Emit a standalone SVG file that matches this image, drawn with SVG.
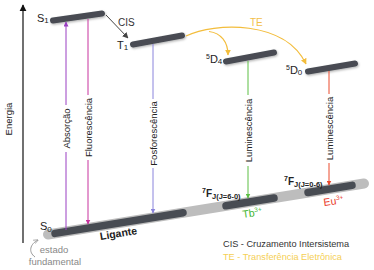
<svg xmlns="http://www.w3.org/2000/svg" width="374" height="270" viewBox="0 0 374 270">
<style>
text{font-family:"Liberation Sans",Arial,sans-serif;}
.bar{stroke:#484c53;stroke-width:6;stroke-linecap:round;fill:none;filter:url(#sh);}
.lbl{font-size:11px;fill:#222;}
.sub{font-size:8px;}
.vl{font-size:9.5px;fill:#222;text-anchor:middle;dominant-baseline:central;}
.leg{font-size:9.2px;}
</style>
<defs>
<filter id="sh" x="-20%" y="-100%" width="140%" height="300%">
<feDropShadow dx="0.8" dy="1.2" stdDeviation="0.9" flood-color="#000" flood-opacity="0.3"/>
</filter>
<marker id="aK" viewBox="0 0 10 10" refX="9" refY="5" markerWidth="6" markerHeight="6" orient="auto"><path d="M0,0L10,5L0,10z" fill="#444"/></marker>
<marker id="aY" viewBox="0 0 10 10" refX="9" refY="5" markerWidth="5" markerHeight="5" orient="auto"><path d="M0,0L10,5L0,10z" fill="#f3bd3c"/></marker>
<marker id="aP" viewBox="0 0 10 10" refX="9" refY="5" markerWidth="5" markerHeight="5" orient="auto"><path d="M0,0L10,5L0,10z" fill="#9a3ec2"/></marker>
<marker id="aM" viewBox="0 0 10 10" refX="9" refY="5" markerWidth="5" markerHeight="5" orient="auto"><path d="M0,0L10,5L0,10z" fill="#c7339e"/></marker>
<marker id="aL" viewBox="0 0 10 10" refX="9" refY="5" markerWidth="5" markerHeight="5" orient="auto"><path d="M0,0L10,5L0,10z" fill="#8a84dc"/></marker>
<marker id="aG" viewBox="0 0 10 10" refX="9" refY="5" markerWidth="5" markerHeight="5" orient="auto"><path d="M0,0L10,5L0,10z" fill="#5cbf45"/></marker>
<marker id="aR" viewBox="0 0 10 10" refX="9" refY="5" markerWidth="5" markerHeight="5" orient="auto"><path d="M0,0L10,5L0,10z" fill="#ea4a2c"/></marker>
<marker id="aA" viewBox="0 0 10 10" refX="9" refY="5" markerWidth="6" markerHeight="6" orient="auto"><path d="M0,0L10,5L0,10z" fill="#111"/></marker>
<marker id="aE" viewBox="0 0 10 10" refX="9" refY="5" markerWidth="5" markerHeight="5" orient="auto"><path d="M0,1L10,5L0,9" fill="none" stroke="#999" stroke-width="1.5"/></marker>
</defs>
<rect width="374" height="270" fill="#fff"/>

<g id="axis">
<line x1="23" y1="243" x2="23" y2="5" stroke="#111" stroke-width="1.2" marker-end="url(#aA)"/>
<text class="vl" transform="translate(8,119) rotate(-90)">Energia</text>
</g>

<g id="ground">
<line x1="48" y1="234.5" x2="364" y2="183.5" stroke="#bdbdbd" stroke-width="10" stroke-linecap="round"/>
<line x1="55" y1="233.4" x2="183" y2="212.7" stroke="#484c53" stroke-width="7.5" stroke-linecap="round"/>
<line x1="226" y1="205.8" x2="274" y2="198" stroke="#484c53" stroke-width="7.5" stroke-linecap="round"/>
<line x1="308" y1="192.5" x2="352" y2="185.4" stroke="#484c53" stroke-width="7.5" stroke-linecap="round"/>
<text class="lbl" x="40" y="230">S<tspan class="sub" dy="2">0</tspan></text>
<text transform="translate(119,237) rotate(-9.2)" text-anchor="middle" font-size="10.5" font-weight="bold" fill="#222">Ligante</text>
<text x="54" y="253" text-anchor="middle" font-size="9.5" fill="#888">estado</text>
<text x="55" y="265" text-anchor="middle" font-size="9.5" fill="#888">fundamental</text>
<path d="M35,257 C28,252 30,244 38,240" fill="none" stroke="#999" stroke-width="1" marker-end="url(#aE)"/>
</g>

<g id="S1">
<line class="bar" x1="53" y1="20.5" x2="102" y2="13.5"/>
<text class="lbl" x="37" y="22">S<tspan class="sub" dy="1">1</tspan></text>
</g>
<g id="T1">
<line class="bar" x1="133" y1="44.5" x2="182" y2="35.5"/>
<text class="lbl" x="117" y="49">T<tspan class="sub" dy="1">1</tspan></text>
</g>
<g id="D4">
<line class="bar" x1="226" y1="61.5" x2="274" y2="52.5"/>
<text class="lbl" x="206" y="63"><tspan font-size="7" dy="-4">5</tspan><tspan dy="4">D</tspan><tspan class="sub" dy="1">4</tspan></text>
</g>
<g id="D0">
<line class="bar" x1="308" y1="71.5" x2="355" y2="63.5"/>
<text class="lbl" x="286" y="74"><tspan font-size="7" dy="-4">5</tspan><tspan dy="4">D</tspan><tspan class="sub" dy="1">0</tspan></text>
</g>

<g id="connectors">
<line x1="106" y1="15" x2="128" y2="38" stroke="#444" stroke-width="1" marker-end="url(#aK)"/>
<path d="M186,36 C215,22 285,20 306,64" fill="none" stroke="#f3bd3c" stroke-width="1.2" marker-end="url(#aY)"/>
<path d="M209,31.5 C221,33 228,42 228,55" fill="none" stroke="#f3bd3c" stroke-width="1.2" marker-end="url(#aY)"/>
<!-- Absorcao -->
<line x1="66" y1="230" x2="66" y2="152" stroke="#9a3ec2" stroke-width="1"/>
<line x1="66" y1="105" x2="66" y2="22" stroke="#9a3ec2" stroke-width="1" marker-end="url(#aP)"/>
<!-- Fluorescencia -->
<line x1="88" y1="19" x2="88" y2="95" stroke="#c7339e" stroke-width="1"/>
<line x1="88" y1="160" x2="88" y2="224" stroke="#c7339e" stroke-width="1" marker-end="url(#aM)"/>
<!-- Fosforescencia -->
<line x1="153" y1="44" x2="153" y2="99" stroke="#8a84dc" stroke-width="1"/>
<line x1="153" y1="168" x2="153" y2="213" stroke="#8a84dc" stroke-width="1" marker-end="url(#aL)"/>
<!-- Luminescencia Tb -->
<line x1="248" y1="61" x2="248" y2="95" stroke="#5cbf45" stroke-width="1"/>
<line x1="248" y1="166" x2="248" y2="198" stroke="#5cbf45" stroke-width="1" marker-end="url(#aG)"/>
<!-- Luminescencia Eu -->
<line x1="329" y1="71" x2="329" y2="94" stroke="#ea4a2c" stroke-width="1"/>
<line x1="329" y1="163" x2="329" y2="185" stroke="#ea4a2c" stroke-width="1" marker-end="url(#aR)"/>
</g>

<g id="labels">
<text x="118" y="26" font-size="10" fill="#333">CIS</text>
<text x="250" y="26" font-size="10" fill="#f3c04a">TE</text>
<text class="vl" transform="translate(66,128.5) rotate(-90)">Absorção</text>
<text class="vl" transform="translate(88,127.5) rotate(-90)">Fluorescência</text>
<text class="vl" transform="translate(153,133.5) rotate(-90)">Fosforescência</text>
<text class="vl" transform="translate(248,130.5) rotate(-90)">Luminescência</text>
<text class="vl" transform="translate(329,128.5) rotate(-90)">Luminescência</text>
</g>

<g id="ions">
<text x="202" y="197" font-size="10" font-weight="bold" fill="#222"><tspan font-size="7" dy="-4">7</tspan><tspan dy="4">F</tspan><tspan font-size="7.5" dy="2">J(J=6-0)</tspan></text>
<text x="284" y="185" font-size="10" font-weight="bold" fill="#222"><tspan font-size="7" dy="-4">7</tspan><tspan dy="4">F</tspan><tspan font-size="7.5" dy="2">J(J=0-6)</tspan></text>
<text transform="translate(243,218) rotate(-8)" font-size="10.5" fill="#3db52e">Tb<tspan font-size="6.5" dy="-4">3+</tspan></text>
<text transform="translate(324,206) rotate(-8)" font-size="10.5" fill="#ea3a2a">Eu<tspan font-size="6.5" dy="-4">3+</tspan></text>
</g>

<g id="legend">
<text class="leg" x="223" y="247" fill="#333">CIS - Cruzamento Intersistema</text>
<text class="leg" x="223" y="259.5" fill="#f5cf55">TE - Transferência Eletrônica</text>
</g>
</svg>
